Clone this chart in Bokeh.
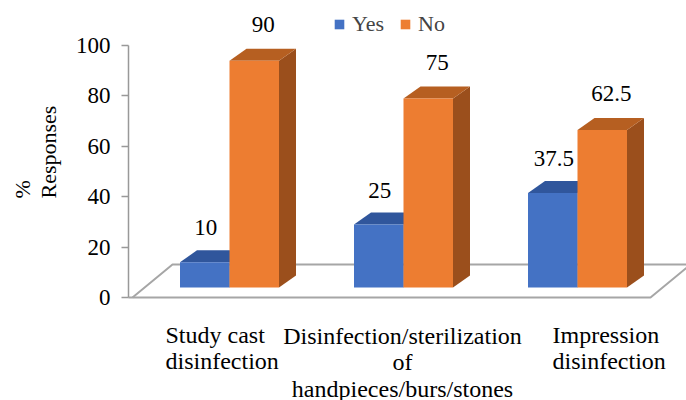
import numpy as np
from math import pi
from bokeh.plotting import figure
from bokeh.models import Range1d, FixedTicker, Legend, LegendItem
from bokeh.core.properties import value
from bokeh.embed import file_html
from bokeh.resources import INLINE

# ---------------- data ----------------
categories = ["Study cast\ndisinfection",
              "Disinfection/sterilization\nof\nhandpieces/burs/stones",
              "Impression\ndisinfection"]
series_names = ["Yes", "No"]
yes_values = [10, 25, 37.5]
no_values = [90, 75, 62.5]
y_ticks = [0, 20, 40, 60, 80, 100]
y_axis_title = "%\nResponses"

# ---------------- layout (pixels) ----------------
W, H = 686, 400
FONT = "Liberation Serif"
PX_CAT = 174.0          # px between category centres
PX_UNIT = 2.52          # px per percentage unit
AXIS_PAGE_X = 128
CAT0_PAGE_X, ZERO_PAGE_Y = 229, 297
BAR_W_PX = 49.5
BASE_PX = 10            # bar front base lifted above floor front edge
DEPTH_DX_PX, DEPTH_DY_PX = 17, 12
LABEL_GAP_PX = [34.5, 36.5]
LABEL_DX_PX = [1, 9]
FLOOR_LEFT_PX, FLOOR_RIGHT_PX = 132, 650
FLOOR_DX_PX, FLOOR_DY_PX = 40, 33
cat_label_dx_px = [-64, -1, -25]
cat_label_align = ["left", "center", "left"]
cat_label_first_base_page = [334, 335, 334]
cat_label_line_px = 26.5
ytitle_page_x = [22, 48]
ytitle_start_page_y = 198

colors_front = ["#4472C4", "#ED7D31"]
colors_top = ["#30569C", "#B65F21"]
colors_side = ["#2B4C8C", "#9B4F1C"]
floor_color = "#A6A6A6"
axis_color = "#999999"


def xu(px):
    return px / PX_CAT


def yu(px):
    return px / PX_UNIT


x_start = xu(0 - CAT0_PAGE_X)
x_end = xu(W - CAT0_PAGE_X)
y_start = yu(ZERO_PAGE_Y - H)
y_end = yu(ZERO_PAGE_Y - 0)

p = figure(width=W, height=H, output_backend="svg", toolbar_location=None,
           x_range=Range1d(x_start, x_end), y_range=Range1d(y_start, y_end),
           x_axis_location=None, min_border_left=0,
           min_border_right=0, min_border_top=0, min_border_bottom=0)
p.outline_line_color = None
p.xgrid.visible = False
p.ygrid.visible = False
p.background_fill_color = "white"
p.border_fill_color = "white"

# ---------------- floor ----------------
n = len(categories)
x_axis_pos = xu(AXIS_PAGE_X - CAT0_PAGE_X)
fl = xu(FLOOR_LEFT_PX - CAT0_PAGE_X)
fr = xu(FLOOR_RIGHT_PX - CAT0_PAGE_X)
fdx, fdy = xu(FLOOR_DX_PX), yu(FLOOR_DY_PX)
p.line(x=[x_axis_pos, fr, fr + fdx], y=[0, 0, fdy], line_color=floor_color, line_width=2)
p.line(x=[fl, fl + fdx, fr + fdx + 0.2], y=[0, fdy, fdy], line_color=floor_color, line_width=2)

# ---------------- bars ----------------
bw = xu(BAR_W_PX)
base = yu(BASE_PX)
dx, dy = xu(DEPTH_DX_PX), yu(DEPTH_DY_PX)
idx = np.arange(n, dtype=float)
front_renderers = []
label_x, label_y, label_t = [], [], []
for s, vals in enumerate([yes_values, no_values]):
    vals = np.asarray(vals, dtype=float)
    left = idx - bw + s * bw
    right = left + bw
    top = base + vals
    p.patches(xs=[[r, r, r + dx, r + dx] for r in right],
              ys=[[base, t, t + dy, base + dy] for t in top],
              fill_color=colors_side[s], line_color=None)
    p.patches(xs=[[l, r, r + dx, l + dx] for l, r in zip(left, right)],
              ys=[[t, t, t + dy, t + dy] for t in top],
              fill_color=colors_top[s], line_color=None)
    fr_r = p.quad(left=left, right=right, bottom=base, top=top,
                  fill_color=colors_front[s], line_color=None)
    front_renderers.append(fr_r)
    for l, r, t, v in zip(left, right, top, vals):
        label_x.append((l + r) / 2 + xu(LABEL_DX_PX[s]))
        label_y.append(t + yu(LABEL_GAP_PX[s]))
        label_t.append(f"{v:g}")

p.text(x=label_x, y=label_y, text=label_t, text_font=value(FONT), text_font_size="23px",
       text_align="center", text_baseline="middle", text_color="black")

# ---------------- category labels ----------------
for align in ["left", "center"]:
    xs, ys, ts = [], [], []
    for i, cat in enumerate(categories):
        if cat_label_align[i] != align:
            continue
        for j, line in enumerate(cat.split("\n")):
            xs.append(i + xu(cat_label_dx_px[i]))
            ys.append(yu(ZERO_PAGE_Y - cat_label_first_base_page[i] - j * cat_label_line_px))
            ts.append(line)
    p.text(x=xs, y=ys, text=ts, text_font=value(FONT), text_font_size="24px",
           text_align=align, text_baseline="alphabetic", text_color="black")

# ---------------- y axis title (rotated, lines start at the same bottom point) ----------------
t_lines = y_axis_title.split("\n")
p.text(x=[xu(px - CAT0_PAGE_X) for px in ytitle_page_x[:len(t_lines)]],
       y=[yu(ZERO_PAGE_Y - ytitle_start_page_y)] * len(t_lines), text=t_lines,
       angle=pi / 2, text_font=value(FONT), text_font_size="22px",
       text_align="left", text_baseline="middle", text_color="black")

# ---------------- y axis ----------------
ax = p.yaxis[0]
ax.fixed_location = x_axis_pos
ax.ticker = FixedTicker(ticks=y_ticks)
ax.bounds = (min(y_ticks), max(y_ticks))
ax.axis_line_color = axis_color
ax.axis_line_width = 1.5
ax.major_tick_line_color = axis_color
ax.major_tick_line_width = 1.5
ax.major_tick_in = 0
ax.major_tick_out = 7
ax.minor_tick_line_color = None
ax.major_label_standoff = 11
ax.major_label_text_font = FONT
ax.major_label_text_font_size = "23px"
ax.major_label_text_color = "black"

# ---------------- legend ----------------
legend = Legend(items=[LegendItem(label=series_names[k], renderers=[front_renderers[k]]) for k in range(2)],
                orientation="horizontal", location=(333, 363),
                glyph_width=12, glyph_height=12, label_standoff=7, spacing=15,
                padding=0, margin=0, border_line_color=None, background_fill_alpha=0,
                label_text_font=FONT, label_text_font_size="22px", label_height=12)
p.add_layout(legend)

open("out.html", "w").write(file_html(p, INLINE))
